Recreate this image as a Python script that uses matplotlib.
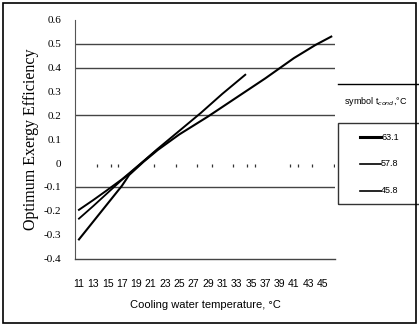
import matplotlib
matplotlib.use("Agg")
import matplotlib.pyplot as plt
from matplotlib.lines import Line2D
from matplotlib.patches import Rectangle

# condenser temperatures (legend)
series_names = ["63.1", "57.8", "45.8"]

# cooling water temperature vs optimum exergy efficiency
temp_631 = [11, 13, 15, 17, 18, 20, 22, 25, 29, 33, 37, 41, 44, 46.2]
eff_631 = [-0.32, -0.245, -0.17, -0.095, -0.05, 0.005, 0.055, 0.12, 0.195, 0.275, 0.355, 0.44, 0.495, 0.53]

temp_578 = [11, 13, 15, 17, 18, 20, 22]
eff_578 = [-0.233, -0.18, -0.125, -0.07, -0.045, 0.007, 0.058]

temp_458 = [11, 13, 15, 17, 18, 20, 22, 25, 28, 31, 34.2]
eff_458 = [-0.196, -0.155, -0.112, -0.068, -0.043, 0.008, 0.06, 0.135, 0.21, 0.29, 0.37]

x_ticks = list(range(11, 46, 2))
y_ticks = [0.6, 0.5, 0.4, 0.3, 0.2, 0.1, 0, -0.1, -0.2, -0.3, -0.4]
y_labels = ["0.6", "0.5", "0.4", "0.3", "0.2", "0.1", "0", "-0.1", "-0.2", "-0.3", "-0.4"]
grid_vals = [0.5, 0.4, 0.2, -0.1]
zero_ticks = [13.5, 15.5, 16.5, 21.5, 24.5, 27.5, 29.5, 32.5, 34.5, 35.5, 40.5, 41.5, 43.5, 46.6]

sans = ["Liberation Sans", "DejaVu Sans"]

fig = plt.figure(figsize=(4.19, 3.26), dpi=100)
ax = fig.add_axes([0.179, 0.207, 0.621, 0.732])

for g in grid_vals:
    ax.axhline(g, color="#444444", lw=1.0, zorder=1)

ax.vlines(zero_ticks, -0.018, -0.002, color="#333333", lw=0.9)

ax.plot(temp_631, eff_631, color="black", lw=1.5, zorder=3)
ax.plot(temp_578, eff_578, color="black", lw=1.3, zorder=3)
ax.plot(temp_458, eff_458, color="black", lw=1.4, zorder=3)

ax.set_xlim(10.45, 46.75)
ax.set_ylim(-0.4, 0.6)
for s in ["top", "right"]:
    ax.spines[s].set_visible(False)
ax.spines["left"].set_color("#555555")
ax.spines["bottom"].set_color("#444444")
ax.spines["bottom"].set_linewidth(1.0)

ax.set_yticks(y_ticks)
ax.set_yticklabels(y_labels, family="Liberation Serif", fontsize=8)
ax.set_xticks(x_ticks)
ax.set_xticklabels([str(t) for t in x_ticks], family=sans, fontsize=7.5)
ax.tick_params(length=0, pad=10)
ax.tick_params(axis="x", pad=15)

ax.set_xlabel("Cooling water temperature, °C", family=sans, fontsize=8, labelpad=8)
ax.set_ylabel("Optimum Exergy Efficiency", family="Liberation Serif", fontsize=11.5, labelpad=3)

# legend drawn by hand, like the spreadsheet box
W, H = 419.0, 326.0
fig.add_artist(Line2D([338 / W, 419 / W], [1 - 84 / H, 1 - 84 / H], color="black", lw=1.0))
fig.text(344 / W, 1 - 102 / H, "symbol t$_{cond}$,°C", fontsize=6.5, family=sans, va="center")
fig.add_artist(Rectangle((338 / W, 1 - 204 / H), 90 / W, 81 / H, fill=False,
                         edgecolor="#333333", lw=1.0))
legend_y = [137, 164, 191]
legend_lw = [2.2, 1.2, 1.2]
for name, yy, lw in zip(series_names, legend_y, legend_lw):
    fig.add_artist(Line2D([360 / W, 381 / W], [1 - yy / H, 1 - yy / H], color="black", lw=lw))
    fig.text(381 / W, 1 - yy / H, name, fontsize=6.5, va="center", family=sans)

# outer chart border
fig.add_artist(Rectangle((3 / W, 3 / H), 413 / W, 320 / H, fill=False, edgecolor="black", lw=1.2))

fig.savefig("out.png", dpi=100)
